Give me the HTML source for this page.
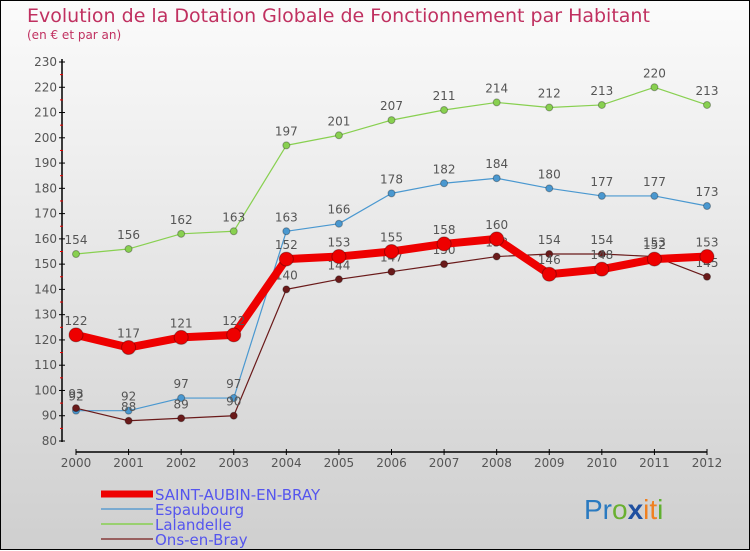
<!DOCTYPE html>
<html><head><meta charset="utf-8"><style>
html,body{margin:0;padding:0}
body{width:750px;height:550px;overflow:hidden;font-family:"DejaVu Sans","Liberation Sans",sans-serif}
#wrap{position:relative;width:748px;height:548px;border:1px solid #000;background:linear-gradient(#fbfbfb,#cfcfcf)}
svg{position:absolute;left:0;top:0}
</style></head><body>
<div id="wrap">
<svg id="chart" width="750" height="550">
<text x="26" y="21" font-size="19" fill="#c03060" font-family="DejaVu Sans,sans-serif">Evolution de la Dotation Globale de Fonctionnement par Habitant</text>
<text x="26" y="38" font-size="12" fill="#c03060">(en € et par an)</text>
<g id="axes"></g><g id="series"></g><g id="legend"></g>
<text x="583" y="518" font-size="28" font-family="Liberation Sans,sans-serif"><tspan fill="#2a7ac0">Pr</tspan><tspan fill="#6ab030">o</tspan><tspan fill="#2050a0" font-weight="bold">x</tspan><tspan fill="#f08020">it</tspan><tspan fill="#60b030">i</tspan></text>
</svg></div>
<script>
const years=[2000,2001,2002,2003,2004,2005,2006,2007,2008,2009,2010,2011,2012];
const yTicks=[80,90,100,110,120,130,140,150,160,170,180,190,200,210,220,230];
const saintAubin=[122,117,121,122,152,153,155,158,160,146,148,152,153];
const espaubourg=[92,92,97,97,163,166,178,182,184,180,177,177,173];
const lalandelle=[154,156,162,163,197,201,207,211,214,212,213,220,213];
const onsEnBray=[93,88,89,90,140,144,147,150,153,154,154,153,145];
const NS='http://www.w3.org/2000/svg';
function X(i){return 75+i*(706-75)/12;}
function Y(v){return 440-(v-80)*(440-61)/150;}
function mk(t,a,p){const e=document.createElementNS(NS,t);for(const k in a)e.setAttribute(k,a[k]);(p||document.getElementById('chart')).appendChild(e);return e;}
const ax=document.getElementById('axes');
let e=mk('line',{x1:61,y1:58,x2:61,y2:441,stroke:'#000','stroke-width':1.5},ax);


yTicks.forEach(v=>{
 const t=mk('line',{x1:58,x2:64,y1:Y(v),y2:Y(v),stroke:'#000'},ax);
 
 
 if(v<230){const m=mk('line',{x1:59,x2:62,y1:Y(v+5),y2:Y(v+5),stroke:'#e00'},ax);
 
 }
 const l=mk('text',{x:56,y:Y(v)+4,'text-anchor':'end','font-size':12,fill:'#555'},ax);l.textContent=v;
 
 
});
e=mk('line',{x1:75,y1:451,x2:706,y2:451,stroke:'#000','stroke-width':1.5},ax);


years.forEach((yr,i)=>{
 const t=mk('line',{x1:X(i),x2:X(i),y1:448,y2:454,stroke:'#000'},ax);
 
 
 const l=mk('text',{x:X(i),y:466,'text-anchor':'middle','font-size':12,fill:'#555'},ax);l.textContent=yr;
 
 
});
const sg=document.getElementById('series');
function series(vals,color,w,r,name){
 const g=mk('g',{},sg);
 
 
 const pl=mk('polyline',{points:vals.map((v,i)=>X(i)+','+Y(v)).join(' '),fill:'none',stroke:color,'stroke-width':w,'stroke-linejoin':'round'},g);
 
 
 vals.forEach((v,i)=>{
  const c=mk('circle',{cx:X(i),cy:Y(v),r:r,fill:color,stroke:'rgba(0,0,0,0.3)','stroke-width':1},g);
  
  
  const t=mk('text',{x:X(i),y:Y(v)-10,'text-anchor':'middle','font-size':12,fill:'#555'},g);t.textContent=v;
  
  
 });
}
series(lalandelle,'#88d050',1.2,3.5,'lalandelle');
series(espaubourg,'#4a98d0',1.2,3.5,'espaubourg');
series(onsEnBray,'#6a1a1a',1.2,3.5,'ons-en-bray');
series(saintAubin,'#ee0000',8,7,'saint-aubin');
const lg=document.getElementById('legend');
const leg=[['SAINT-AUBIN-EN-BRAY','#ee0000',7],['Espaubourg','#7aaad0',2],['Lalandelle','#99d070',2],['Ons-en-Bray','#986060',2]];
leg.forEach((d,i)=>{
 const y=493+i*15;
 const l=mk('line',{x1:100,x2:152,y1:y,y2:y,stroke:d[1],'stroke-width':d[2]},lg);
 
 
 const t=mk('text',{x:154,y:y+6,'font-size':15,fill:'#5555ee'},lg);t.textContent=d[0];
 
 
});
</script>
</body></html>
